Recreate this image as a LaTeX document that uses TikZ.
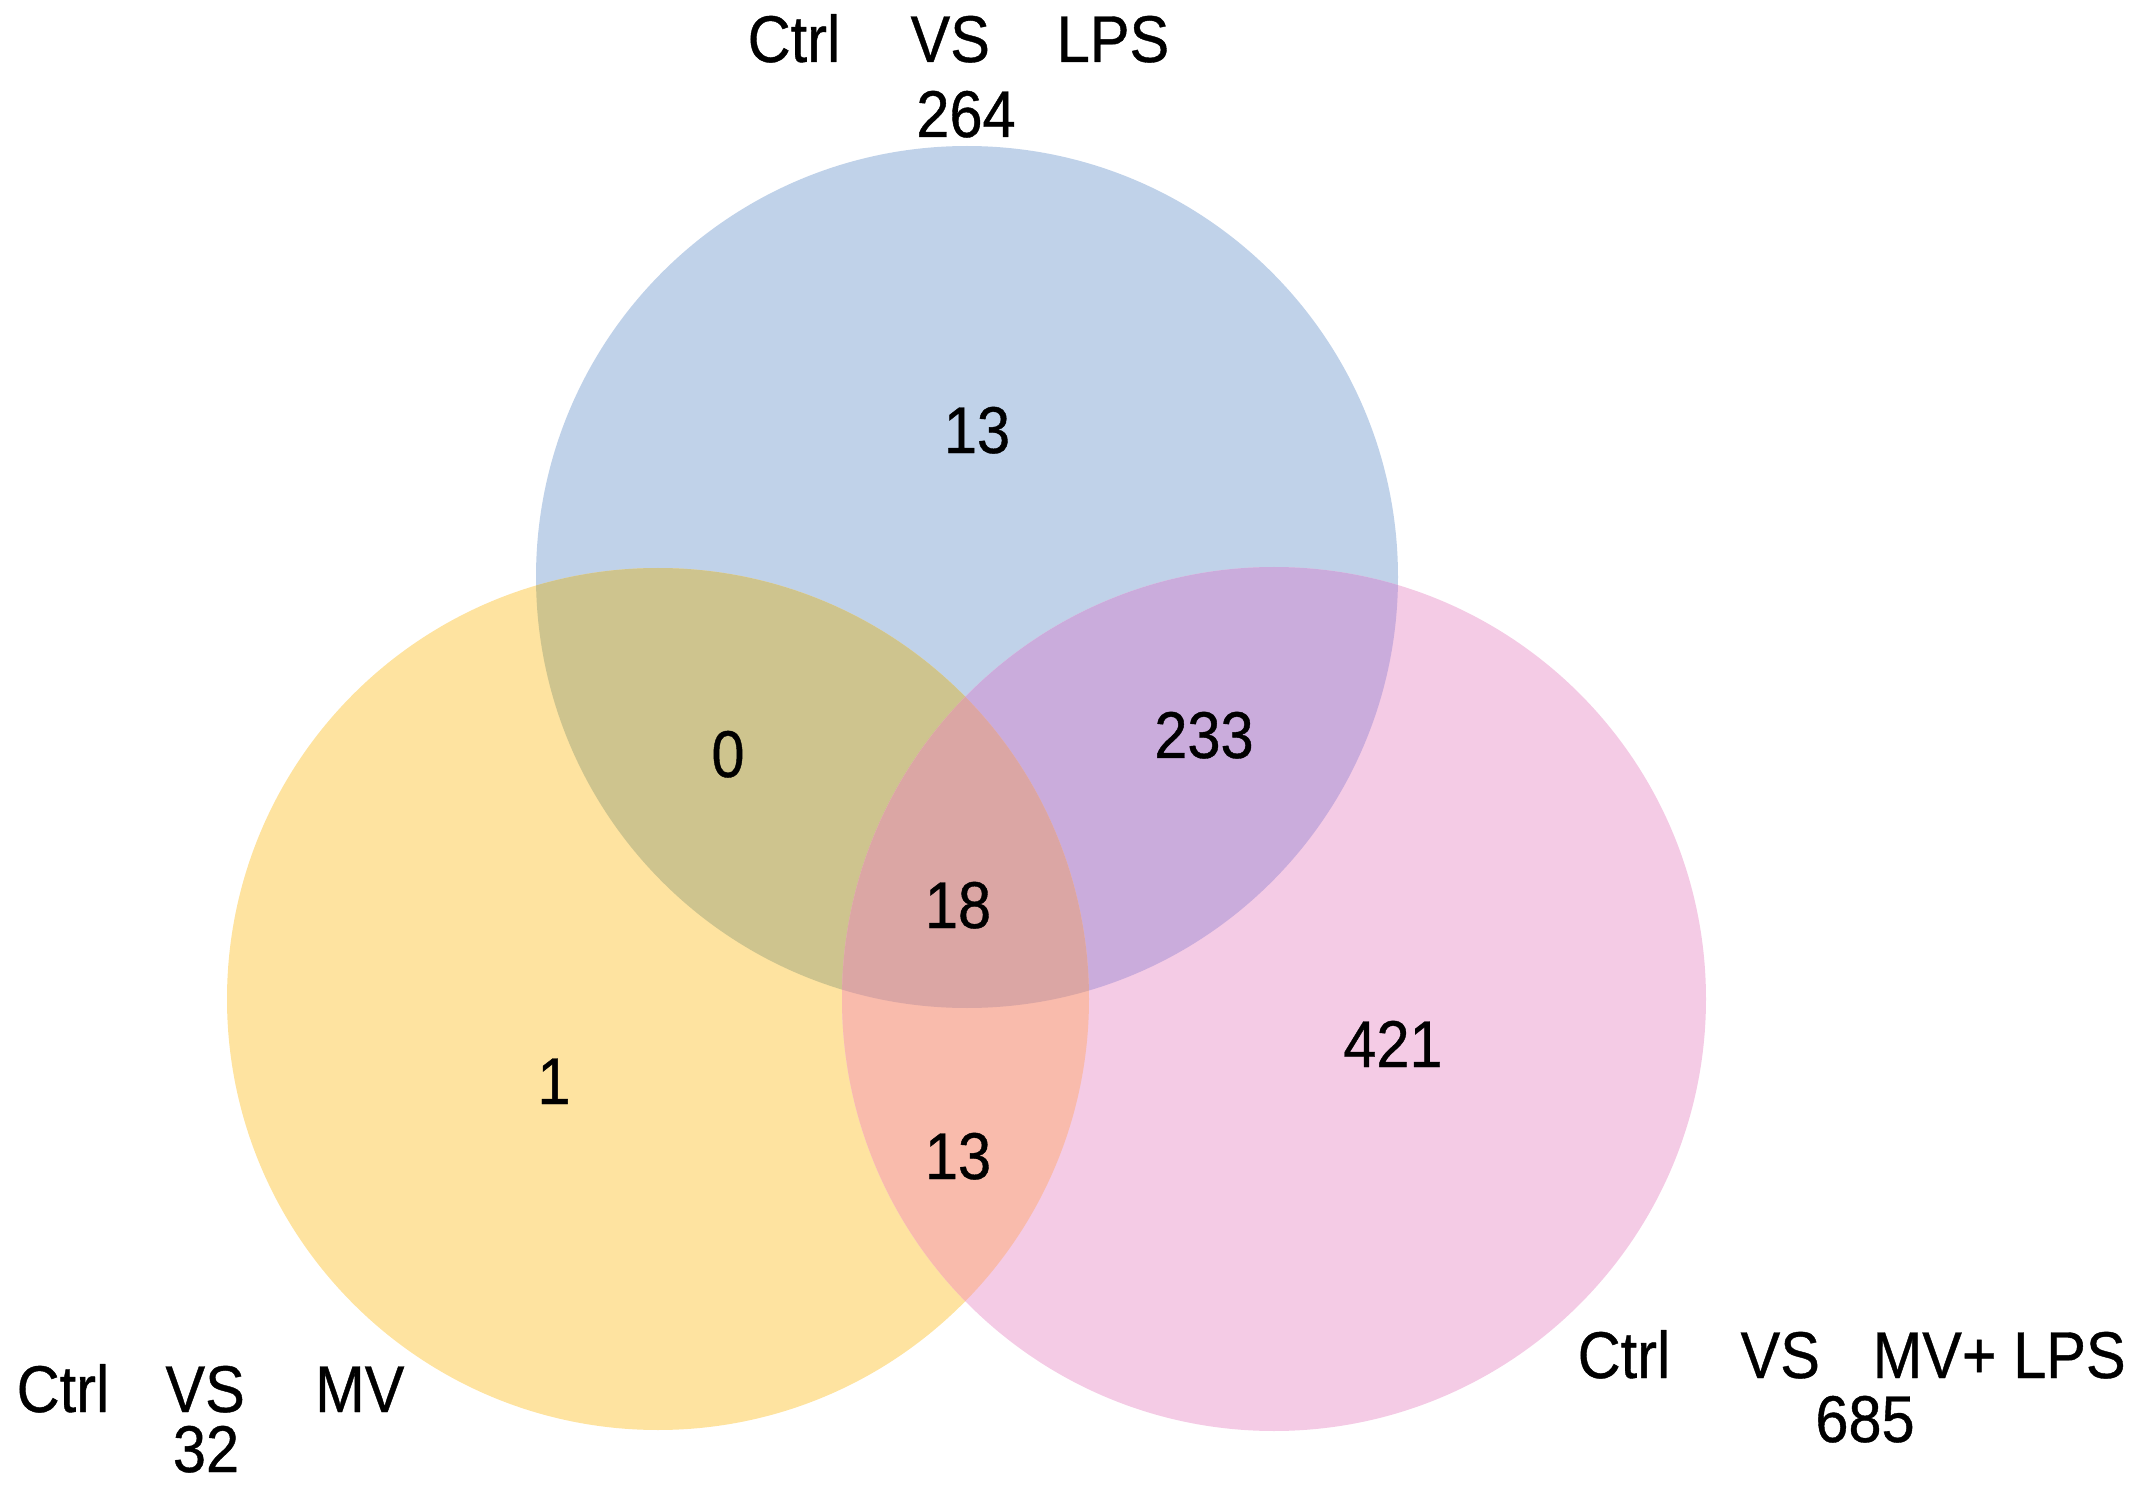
\documentclass[tikz,border=0pt]{standalone}
\usepackage{fontspec}
\newfontfamily\labfont[FakeStretch=0.9,FakeBold=0.6]{Liberation Sans}
\definecolor{cB}{RGB}{192,210,233}
\definecolor{cY}{RGB}{254,227,160}
\definecolor{cP}{RGB}{244,203,229}
\definecolor{cBY}{RGB}{206,196,142}
\definecolor{cBP}{RGB}{202,172,220}
\definecolor{cYP}{RGB}{249,187,172}
\definecolor{cBYP}{RGB}{219,166,164}
\begin{document}
\begin{tikzpicture}[x=0.01cm,y=-0.01cm,
  lab/.style={font=\labfont\fontsize{18.8}{22}\selectfont, inner sep=0pt, text=black},
  num/.style={lab, anchor=base}]
\useasboundingbox (0,0) rectangle (2150,1491);
\def\Bc{(967,577) circle (431)}
\def\Yc{(658,999) circle (431)}
\def\Pc{(1274,999) circle (432)}
\fill[cB] \Bc;
\fill[cY] \Yc;
\fill[cP] \Pc;
\begin{scope}\clip \Bc; \fill[cBY] \Yc; \end{scope}
\begin{scope}\clip \Bc; \fill[cBP] \Pc; \end{scope}
\begin{scope}\clip \Yc; \fill[cYP] \Pc; \end{scope}
\begin{scope}\clip \Bc; \clip \Yc; \fill[cBYP] \Pc; \end{scope}
% set labels
\node[lab, anchor=base west] (tl) at (747,62) {Ctrl\hspace{20pt}VS\hspace{19pt}LPS};
\node[num] (tn) at (966,137) {264};
\node[lab, anchor=base west] (bl) at (16,1412) {Ctrl\hspace{16pt}VS\hspace{20pt}MV};
\node[num] (bn) at (206,1472) {32};
\node[lab, anchor=base west] (br) at (1577,1378) {Ctrl\hspace{20pt}VS\hspace{15pt}MV+ LPS};
\node[num] (rn) at (1865,1442) {685};
% region counts
\node[num] (n1) at (977,453) {13};
\node[num] (n2) at (728,777) {0};
\node[num] (n3) at (1204,758) {233};
\node[num] (n4) at (958,928) {18};
\node[num] (n5) at (554,1104) {1};
\node[num] (n6) at (1393,1067) {421};
\node[num] (n7) at (958,1179) {13};
\end{tikzpicture}
\end{document}
